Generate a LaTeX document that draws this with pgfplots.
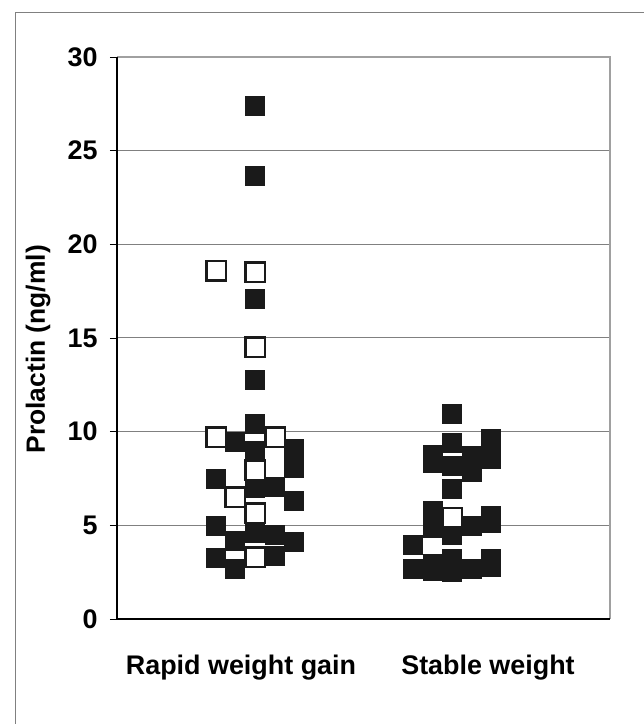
\documentclass[border=0pt]{standalone}
\usepackage{fontspec}
\setmainfont{Liberation Sans}
\usepackage{pgfplots}
\pgfplotsset{compat=1.18}
\definecolor{gridgray}{RGB}{128,128,128}
\definecolor{boxgray}{RGB}{160,160,160}
\definecolor{mkblack}{RGB}{26,26,26}

\begin{document}
\begin{tikzpicture}
\path[use as bounding box] (0,0) rectangle (644bp,724bp);
\draw[gridgray, line width=1bp] (15bp,0) -- (15bp,711bp) -- (644bp,711bp);
\begin{axis}[
  at={(117bp,105bp)}, anchor=south west,
  width=493bp, height=562bp, scale only axis,
  xmin=117, xmax=610, ymin=0, ymax=30,
  axis line style={draw=none},
  xtick={241,488}, xticklabels={Rapid weight gain, Stable weight},
  xtick style={draw=none},
  ytick={0,5,...,30}, ytick pos=left,
  yticklabel={\pgfmathprintnumber{\tick}\hspace*{9bp}},
  tick align=outside, major tick length=7bp,
  y tick style={black, line width=0.8bp},
  ymajorgrids, grid style={gridgray, line width=1bp},
  /pgf/number format/assume math mode=true,
  tick label style={font=\fontsize{27}{32}\selectfont\bfseries},
  xticklabel style={yshift=-25bp},
  ylabel={Prolactin (ng/ml)},
  every axis y label/.style={at={(axis description cs:-0.160,0.48)},
    rotate=90, anchor=center, font=\fontsize{26.5}{32}\selectfont\bfseries},
  clip=false,
]
% filled squares
\addplot[only marks, mark=square*, mark size=9.5bp,
  mark options={fill=mkblack, draw=mkblack, line width=0.4bp}] coordinates {
 (255,27.4)(255,23.65)(255,17.1)(255,12.8)(255,10.45)(235,9.45)(255,9.0)
 (294,9.1)(294,8.05)(216,7.5)(255,7.0)(275,7.05)(294,6.3)(216,5.0)
 (235,4.2)(255,4.6)(275,4.5)(294,4.1)(216,3.25)(275,3.4)(235,2.7)
 (452,10.95)(452,9.4)(491,9.65)(433,8.75)(433,8.35)(452,8.2)(472,8.7)
 (472,7.85)(491,8.55)(452,6.95)(433,5.8)(433,4.9)(452,4.5)(472,5.0)
 (491,5.5)(491,5.15)(413,3.95)(413,2.7)(433,2.95)(433,2.6)(452,3.2)
 (452,2.55)(472,2.7)(491,3.2)(491,2.8)};
% open squares
\addplot[only marks, mark=square*, mark size=9.75bp,
  mark options={fill=white, draw=mkblack, line width=2.5bp}] coordinates {
 (216,18.6)(255,18.5)(255,14.5)(216,9.7)(275,9.7)(255,7.95)(235,6.5)
 (255,5.65)(255,3.3)(452,5.4)};
\draw[boxgray, line width=2.5bp] (rel axis cs:0,1) -- (rel axis cs:1,1) -- (rel axis cs:1,0);
\draw[black, line width=1.4bp] (rel axis cs:0,1) -- (rel axis cs:0,0) -- (rel axis cs:1,0);
\end{axis}
\end{tikzpicture}
\end{document}
